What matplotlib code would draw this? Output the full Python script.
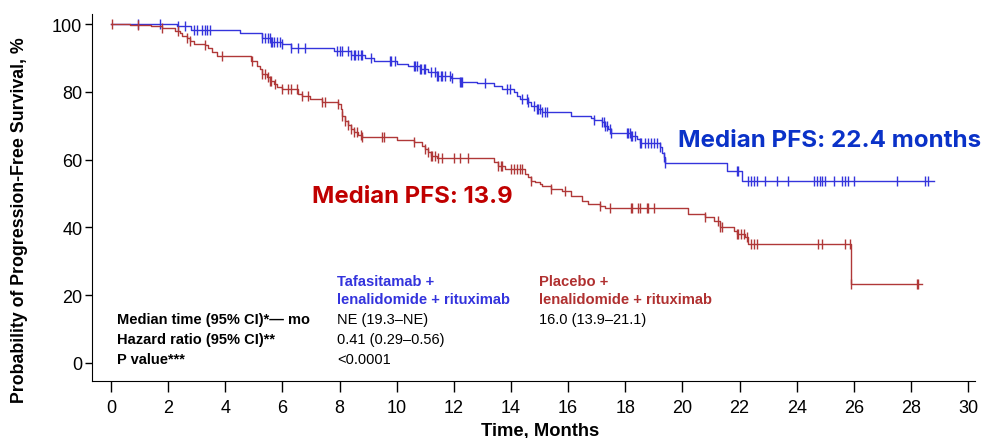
import matplotlib
matplotlib.use("Agg")
import matplotlib.pyplot as plt
import numpy as np

plt.rcParams['font.family'] = ['Liberation Sans', 'DejaVu Sans']

# Kaplan-Meier steps: time of each drop (months) and survival after it (%)
tafa_t = [0, 2.3, 2.8, 4.5, 5.3, 5.6, 6.0, 6.3, 7.8, 8.4, 8.9, 9.2, 10.0, 10.4, 10.8,
          11.1, 11.4, 11.9, 12.2, 12.8, 13.4, 13.7, 14.1, 14.2, 14.3, 14.6, 14.7, 14.9,
          15.1, 16.1, 16.8, 16.9, 17.2, 17.3, 17.4, 17.5, 18.2, 18.4, 18.5, 19.2, 19.3,
          19.35, 19.4, 21.55, 22.1, 28.8]
tafa_s = [100, 99.5, 98.3, 97.3, 96.0, 94.7, 94.0, 93.0, 92.0, 91.0, 90.0, 89.0, 88.2,
          87.5, 86.7, 85.8, 84.7, 84.0, 83.0, 82.6, 81.7, 80.8, 79.9, 78.8, 77.9, 77.0,
          75.8, 75.0, 74.0, 73.0, 72.3, 71.7, 71.0, 70.0, 69.0, 67.8, 67.0, 66.0, 65.0,
          63.7, 62.0, 60.7, 58.9, 56.6, 53.8, 53.8]
tafa_cens = [0.95, 1.7, 2.35, 2.6, 2.9, 3.0, 3.2, 3.3, 3.35, 3.45, 5.3, 5.4, 5.5, 5.55,
             5.6, 5.65, 5.7, 5.8, 5.9, 6.0, 6.3, 6.55, 6.8, 7.9, 8.0, 8.1, 8.3, 8.4, 8.5,
             8.55, 8.65, 8.75, 8.8, 9.1, 9.75, 9.8, 9.95, 10.6, 10.65, 10.7, 10.8, 10.85,
             10.95, 11.0, 11.2, 11.35, 11.4, 11.45, 11.55, 11.6, 11.7, 11.85, 11.95, 12.2,
             12.25, 12.3, 13.1, 13.85, 13.95, 14.4, 14.55, 14.6, 14.8, 14.9, 14.95, 15.0,
             15.1, 15.2, 15.25, 16.9, 17.2, 17.25, 17.3, 17.35, 17.45, 17.5, 18.05, 18.1,
             18.15, 18.2, 18.25, 18.35, 18.5, 18.55, 18.7, 18.8, 18.9, 19.0, 19.1, 19.2,
             19.35, 19.4, 21.9, 21.95, 22.3, 22.4, 22.5, 22.6, 22.9, 23.3, 23.7, 24.6,
             24.7, 24.8, 24.9, 25.0, 25.3, 25.6, 25.7, 25.8, 26.0, 27.5, 28.5, 28.6]

plac_t = [0, 0.66, 1.4, 1.8, 2.25, 2.4, 2.5, 2.65, 2.75, 2.9, 3.3, 3.4, 3.55, 3.7, 4.9,
          5.1, 5.2, 5.3, 5.45, 5.55, 5.7, 5.8, 6.0, 6.55, 6.7, 6.95, 7.4, 7.95, 8.05,
          8.1, 8.2, 8.3, 8.4, 8.5, 8.65, 8.8, 10.0, 10.6, 10.9, 11.0, 11.1, 11.2, 11.4,
          13.4, 13.55, 13.8, 14.5, 14.6, 14.7, 14.85, 15.0, 15.1, 15.4, 15.8, 16.1, 16.5,
          16.7, 17.1, 17.3, 20.2, 20.8, 21.1, 21.3, 21.8, 21.9, 22.2, 22.3, 25.9, 28.4]
plac_s = [100, 99.7, 99.3, 98.7, 98.0, 97.3, 96.5, 95.8, 95.0, 94.0, 93.8, 92.9, 91.8,
          90.7, 89.2, 87.7, 86.7, 85.3, 84.4, 83.3, 82.3, 81.4, 80.8, 79.4, 78.8, 77.9,
          77.0, 76.4, 75.0, 72.9, 71.4, 70.2, 69.0, 68.1, 67.3, 66.7, 65.8, 65.2, 64.0,
          63.1, 62.2, 61.0, 60.5, 59.3, 58.1, 57.2, 55.8, 54.9, 53.7, 53.4, 52.8, 52.2,
          51.3, 50.7, 49.3, 47.8, 46.9, 46.3, 45.7, 44.0, 43.0, 41.9, 40.1, 38.9, 38.0,
          37.2, 35.1, 23.3, 23.3]
plac_cens = [0.03, 0.95, 1.8, 2.35, 2.65, 2.75, 3.3, 3.9, 4.95, 5.3, 5.4, 5.5, 5.55, 5.6,
             5.75, 6.0, 6.2, 6.3, 6.5, 6.7, 6.9, 7.4, 7.5, 7.95, 8.1, 8.2, 8.3, 8.4, 8.5,
             8.6, 8.75, 8.8, 9.5, 9.55, 10.6, 11.0, 11.1, 11.2, 11.25, 11.35, 11.45, 11.6,
             12.0, 12.2, 12.5, 13.55, 13.65, 13.7, 14.0, 14.1, 14.2, 14.3, 14.4, 14.7,
             15.4, 15.9, 17.1, 17.45, 18.2, 18.25, 18.45, 18.5, 18.75, 18.8, 19.0, 20.8,
             21.25, 21.3, 21.4, 21.9, 21.95, 22.05, 22.15, 22.25, 22.4, 22.5, 22.6, 24.75,
             24.9, 25.7, 25.85, 25.9, 28.2, 28.25]

blue = '#3434DC'
red = '#B03838'


def surv_at(t, times, surv):
    idx = np.searchsorted(times, t, side='right') - 1
    return np.asarray(surv)[idx]


fig = plt.figure(figsize=(9.88, 4.39), dpi=100)
ax = fig.add_axes([92 / 988, 1 - 382 / 439, (975 - 92) / 988, (382 - 15) / 439])

for t, s, c, col in [(tafa_t, tafa_s, tafa_cens, blue), (plac_t, plac_s, plac_cens, red)]:
    ax.step(t, s, where='post', color=col, lw=1.0)
    ax.plot(c, surv_at(c, t, s), ls='none', marker='|', ms=7, mew=1.0, color=col)

ax.set_xlim(-0.665, 30.24)
ax.set_ylim(-5.31, 102.95)
ax.set_xticks(np.arange(0, 31, 2))
ax.set_yticks(np.arange(0, 101, 20))
ax.spines['top'].set_visible(False)
ax.spines['right'].set_visible(False)
ax.tick_params(axis='x', length=8, width=1, pad=5, labelsize=13)
ax.tick_params(axis='y', length=5, width=1, labelsize=13, pad=2)

fig.text(20 / 988, 1 - 220 / 439, 'Probability of Progression-Free Survival, %',
         rotation=90, ha='center', va='center', fontsize=12.8, fontweight='bold')
fig.text(540 / 988, 1 - 432 / 439, 'Time, Months', ha='center', va='center',
         fontsize=13.2, fontweight='bold')

# median annotations
ax.text(7.04, 47.5, 'Median PFS: 13.9', color='#C00000', fontsize=17.2,
        fontweight='bold', family=['Inter', 'DejaVu Sans'], va='baseline')
ax.text(19.85, 64.0, 'Median PFS: 22.4 months', color='#0A32C8', fontsize=17.4,
        fontweight='bold', family=['Inter', 'DejaVu Sans'], va='baseline')

# summary table
row_labels = ['Median time (95% CI)*— mo', 'Hazard ratio (95% CI)**', 'P value***']
tafa_vals = ['NE (19.3–NE)', '0.41 (0.29–0.56)', '<0.0001']
plac_vals = ['16.0 (13.9–21.1)', '', '']
row_y = [13.0, 7.1, 1.2]
for y, lab, v1, v2 in zip(row_y, row_labels, tafa_vals, plac_vals):
    ax.text(0.21, y, lab, fontsize=10.5, fontweight='bold', va='center')
    ax.text(7.91, y, v1, fontsize=10.5, va='center')
    ax.text(14.98, y, v2, fontsize=10.5, va='center')

hdr = dict(fontsize=10.6, fontweight='bold', va='center')
ax.text(7.91, 24.2, 'Tafasitamab +', color='#3333DD', **hdr)
ax.text(7.91, 18.9, 'lenalidomide + rituximab', color='#3333DD', **hdr)
ax.text(14.98, 24.2, 'Placebo +', color='#B03030', **hdr)
ax.text(14.98, 18.9, 'lenalidomide + rituximab', color='#B03030', **hdr)

fig.savefig('out.png', dpi=100)
